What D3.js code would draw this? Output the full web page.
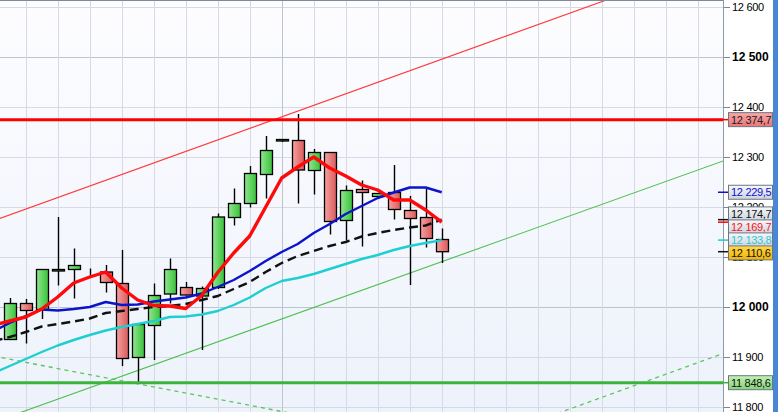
<!DOCTYPE html>
<html><head><meta charset="utf-8">
<script src="https://cdn.jsdelivr.net/npm/d3@7"></script>
<style>html,body{margin:0;padding:0;background:#fff;overflow:hidden}</style>
</head><body>
<svg id="c" width="778" height="412"></svg>
<script>
// ---------- DATA ----------
const candleIndex = d3.range(0, 28);
const candleOpen  = [11935,12007,11995,12072,12075,12069,12070,12047,11899,11963,12026,12039,12022,12039,12179,12207,12265,12332,12333,12273,12309,12173,12235,12221,12229,12193,12179,12135];
const candleHigh  = [12018,12016,12076,12180,12117,12077,12084,12114,11966,12047,12097,12050,12041,12187,12237,12282,12342,12336,12386,12316,12310,12243,12253,12228,12284,12222,12239,12157];
const candleLow   = [11934,11927,11976,12043,12017,12061,12029,11882,11850,11894,12007,12023,11914,12036,12163,12199,12217,12330,12207,12225,12145,12133,12121,12219,12175,12044,12119,12088];
const candleClose = [12007,11993,12075,12075,12083,12069,12049,11897,11965,12023,12075,12024,12037,12180,12207,12267,12313,12335,12274,12309,12171,12233,12229,12227,12195,12177,12137,12110.6];

const maIndex = d3.range(-1, 28);
const maRed   = [11964,11972,11980,11996,12020,12048,12060,12070,12038,12014,12003,12002,11997,12023,12069,12108,12142,12200,12258,12280,12300,12278,12262,12244,12234,12214,12214,12194,12169.7];
const maBlue  = [11952,11968,11982,11995,11993,11996,12000,12010,12004,12005,12011,12015,12019,12027,12040,12054,12072,12092,12110,12126,12148,12166,12186,12202,12218,12229,12239,12239,12229.5];
const maBlack = [11932,11940,11950,11961,11966,11971,11977,11988,11992,11996,12000,12002,12006,12014,12022,12036,12050,12070,12088,12102,12112,12122,12130,12141,12148,12154,12159,12163,12174.7];
const maCyan  = [11868,11882,11896,11910,11923,11934,11944,11953,11960,11966,11972,11980,11981,11985,11992,12004,12019,12038,12052,12058,12066,12076,12086,12096,12104,12114,12122,12128,12133.8];

// trend lines: [index, value] endpoints
const trendRedUp     = [[-1, 12172.8], [45, 12702.8]];
const trendGreenUp   = [[-1, 11769.8], [45, 12296.8]];
const trendGreenDown = [[-1, 11901.6], [45, 11619.0]];
const trendGreenUp2  = [[30, 11738.1], [45, 11911.8]];

const levelResistance = 12374.7;
const levelSupport    = 11848.6;

const yTickValues = [11800, 11900, 12000, 12100, 12200, 12300, 12400, 12500, 12600];
const yBoldTicks  = [12000, 12500];
const xGridIndex  = d3.range(1, 44, 2);
const xGridStrong = [17];

const labelValues = [12374.7, 12229.5, 12174.7, 12169.7, 12133.8, 12110.6, 11848.6];
const labelKeys   = ["resist", "blue", "black", "red", "cyan", "last", "support"];

// ---------- STYLES ----------
const W = 778, H = 412, plotR = 723;
const styles = {
  resist:  {grad:"gRed",    text:"#222",    tick:"#ff0000"},
  blue:    {grad:"gGray",   text:"#1010d0", tick:"#1010c8"},
  black:   {grad:"gGray",   text:"#111",    tick:"#111"},
  red:     {grad:"gGray",   text:"#ff1010", tick:"#ff0000"},
  cyan:    {grad:"gGray",   text:"#30c8cc", tick:"#20c8cc"},
  last:    {grad:"gOrange", text:"#111",    tick:"#111"},
  support: {grad:"gGreen",  text:"#111",    tick:"#3cb43c"}
};

const svg = d3.select("#c");
const x = d3.scaleLinear().domain([0, 44]).range([9.7, 9.7 + 16 * 44]);
const y = d3.scaleLinear().domain([11800, 12600]).range([407, 7]);

const loc = d3.formatLocale({decimal: ",", thousands: " ", grouping: [3], currency: ["", ""]});
const f0 = loc.format(",.0f"), f1 = loc.format(",.1f");

// defs
const defs = svg.append("defs");
function vgrad(id, stops, horiz) {
  const g = defs.append("linearGradient").attr("id", id)
    .attr("x1", 0).attr("y1", 0).attr("x2", horiz ? 1 : 0).attr("y2", horiz ? 0 : 1);
  stops.forEach((c, i) => g.append("stop").attr("offset", i / (stops.length - 1)).attr("stop-color", c));
}
vgrad("gBg", ["#fdfdff", "#edf2fb"]);
vgrad("gRed", ["#f9a8a8", "#ec7474"]);
vgrad("gGray", ["#f6f8fb", "#cdd4df"]);
vgrad("gOrange", ["#ffd84c", "#f2b400"]);
vgrad("gGreen", ["#c2f2b4", "#86d276"]);
vgrad("cGreen", ["#8ee88e", "#3cbf3c"], true);
vgrad("cRed", ["#f6a0a0", "#d85c5c"], true);
defs.append("clipPath").attr("id", "clip").append("rect").attr("x", 0).attr("y", 0).attr("width", plotR).attr("height", H);

// background
svg.append("rect").attr("width", W).attr("height", H).attr("fill", "#fff");
svg.append("rect").attr("width", plotR).attr("height", H).attr("fill", "url(#gBg)");

const plot = svg.append("g").attr("clip-path", "url(#clip)");

// grid
plot.selectAll(".hg").data(yTickValues).enter().append("line")
  .attr("x1", 0).attr("x2", plotR).attr("y1", d => Math.round(y(d)) + 0.5).attr("y2", d => Math.round(y(d)) + 0.5)
  .attr("stroke", d => yBoldTicks.includes(d) ? "#bcc3d3" : "#d6dae6").attr("stroke-width", 1);
plot.selectAll(".vg").data(xGridIndex).enter().append("line")
  .attr("y1", 0).attr("y2", H).attr("x1", d => Math.round(x(d)) + 0.5).attr("x2", d => Math.round(x(d)) + 0.5)
  .attr("stroke", d => xGridStrong.includes(d) ? "#bcc3d3" : "#d6dae6").attr("stroke-width", 1);

// trend lines
const tl = d3.line().x(d => x(d[0])).y(d => y(d[1]));
plot.append("path").attr("d", tl(trendRedUp)).attr("fill", "none").attr("stroke", "#ff3838").attr("stroke-width", 1.1);
plot.append("path").attr("d", tl(trendGreenUp)).attr("fill", "none").attr("stroke", "#4cc04c").attr("stroke-width", 1.1);
plot.append("path").attr("d", tl(trendGreenDown)).attr("fill", "none").attr("stroke", "#5cc55c").attr("stroke-width", 1.3).attr("stroke-dasharray", "4,4");
plot.append("path").attr("d", tl(trendGreenUp2)).attr("fill", "none").attr("stroke", "#5cc55c").attr("stroke-width", 1.3).attr("stroke-dasharray", "4,4");

// candles
const candles = candleIndex.map((i, k) => ({i, o: candleOpen[k], h: candleHigh[k], l: candleLow[k], c: candleClose[k]}));
const cg = plot.append("g");
cg.selectAll(".wick").data(candles).enter().append("line")
  .attr("x1", d => Math.round(x(d.i)) + 0.5).attr("x2", d => Math.round(x(d.i)) + 0.5)
  .attr("y1", d => y(d.h)).attr("y2", d => y(d.l))
  .attr("stroke", "#000").attr("stroke-width", 1.4);
cg.selectAll(".body").data(candles).enter().append("rect")
  .attr("x", d => Math.round(x(d.i)) - 5.5).attr("width", 12)
  .attr("y", d => y(Math.max(d.o, d.c))).attr("height", d => Math.abs(y(d.o) - y(d.c)))
  .attr("fill", d => d.c >= d.o ? "url(#cGreen)" : "url(#cRed)")
  .attr("stroke", "#000").attr("stroke-width", 1.3);

// horizontal levels
plot.append("line").attr("x1", 0).attr("x2", plotR).attr("y1", y(levelResistance)).attr("y2", y(levelResistance))
  .attr("stroke", "#ff0000").attr("stroke-width", 3);
plot.append("line").attr("x1", 0).attr("x2", plotR).attr("y1", y(levelSupport)).attr("y2", y(levelSupport))
  .attr("stroke", "#3cb43c").attr("stroke-width", 3);

// moving averages
const ml = d3.line().x((d, k) => x(maIndex[k])).y(d => y(d)).curve(d3.curveLinear);
plot.append("path").attr("d", ml(maCyan)).attr("fill", "none").attr("stroke", "#1ecfd2").attr("stroke-width", 2.4).attr("stroke-linejoin", "round");
plot.append("path").attr("d", ml(maBlack)).attr("fill", "none").attr("stroke", "#111").attr("stroke-width", 2.4).attr("stroke-dasharray", "9,5");
plot.append("path").attr("d", ml(maBlue)).attr("fill", "none").attr("stroke", "#0c14c8").attr("stroke-width", 2.4).attr("stroke-linejoin", "round");
plot.append("path").attr("d", ml(maRed)).attr("fill", "none").attr("stroke", "#ff0a0a").attr("stroke-width", 3.4).attr("stroke-linejoin", "round");

// top border
svg.append("line").attr("x1", 0).attr("x2", plotR).attr("y1", 0.5).attr("y2", 0.5).attr("stroke", "#7d8b98").attr("stroke-width", 1.2);

// axis
const axis = d3.axisRight(y).tickValues(yTickValues).tickSize(7).tickPadding(2)
  .tickFormat(d => f0(d));
const ag = svg.append("g").attr("transform", `translate(${plotR},0)`).call(axis);
ag.select(".domain").remove();
ag.selectAll(".tick line").attr("stroke", "#7a8796");
ag.selectAll(".tick text")
  .attr("fill", "#000")
  .style("font-family", "'Liberation Sans', Arial, sans-serif")
  .style("font-size", d => yBoldTicks.includes(d) ? "12px" : "11px")
  .style("font-weight", d => yBoldTicks.includes(d) ? "bold" : "normal")
  .style("letter-spacing", d => yBoldTicks.includes(d) ? "0px" : "-0.3px");
svg.append("line").attr("x1", plotR + 0.5).attr("x2", plotR + 0.5).attr("y1", 0).attr("y2", H)
  .attr("stroke", "#8d9aa8").attr("stroke-width", 1);

// right stripe
svg.append("rect").attr("x", 773).attr("y", 0).attr("width", 5).attr("height", H).attr("fill", "#4a86d6");

// value labels
const labels = labelValues.map((v, k) => ({v, key: labelKeys[k], t: y(v), p: y(v)}));
labels.sort((a, b) => a.t - b.t);
for (let it = 0; it < 60; it++) {
  for (let k = 1; k < labels.length; k++) {
    const a = labels[k - 1], b = labels[k], gap = b.p - a.p;
    if (gap < 13) { const d = (13 - gap) / 2; a.p -= d; b.p += d; }
  }
}
const lg = svg.append("g");
labels.forEach(L => {
  const s = styles[L.key];
  lg.append("line").attr("x1", plotR - 5).attr("x2", 729).attr("y1", L.t).attr("y2", L.t)
    .attr("stroke", s.tick).attr("stroke-width", 1.5);
});
labels.forEach(L => {
  const s = styles[L.key];
  const g = lg.append("g");
  g.append("rect").attr("x", 728.5).attr("y", L.p - 7).attr("width", 44).attr("height", 14)
    .attr("fill", `url(#${s.grad})`).attr("stroke", "#6a7784").attr("stroke-width", 1);
  g.append("text").attr("x", 731).attr("y", L.p).attr("dy", "0.36em")
    .attr("fill", s.text)
    .style("font-family", "'Liberation Sans', Arial, sans-serif")
    .style("font-size", "11px").style("letter-spacing", "-0.3px")
    .text(f1(L.v));
});
</script>
</body></html>
